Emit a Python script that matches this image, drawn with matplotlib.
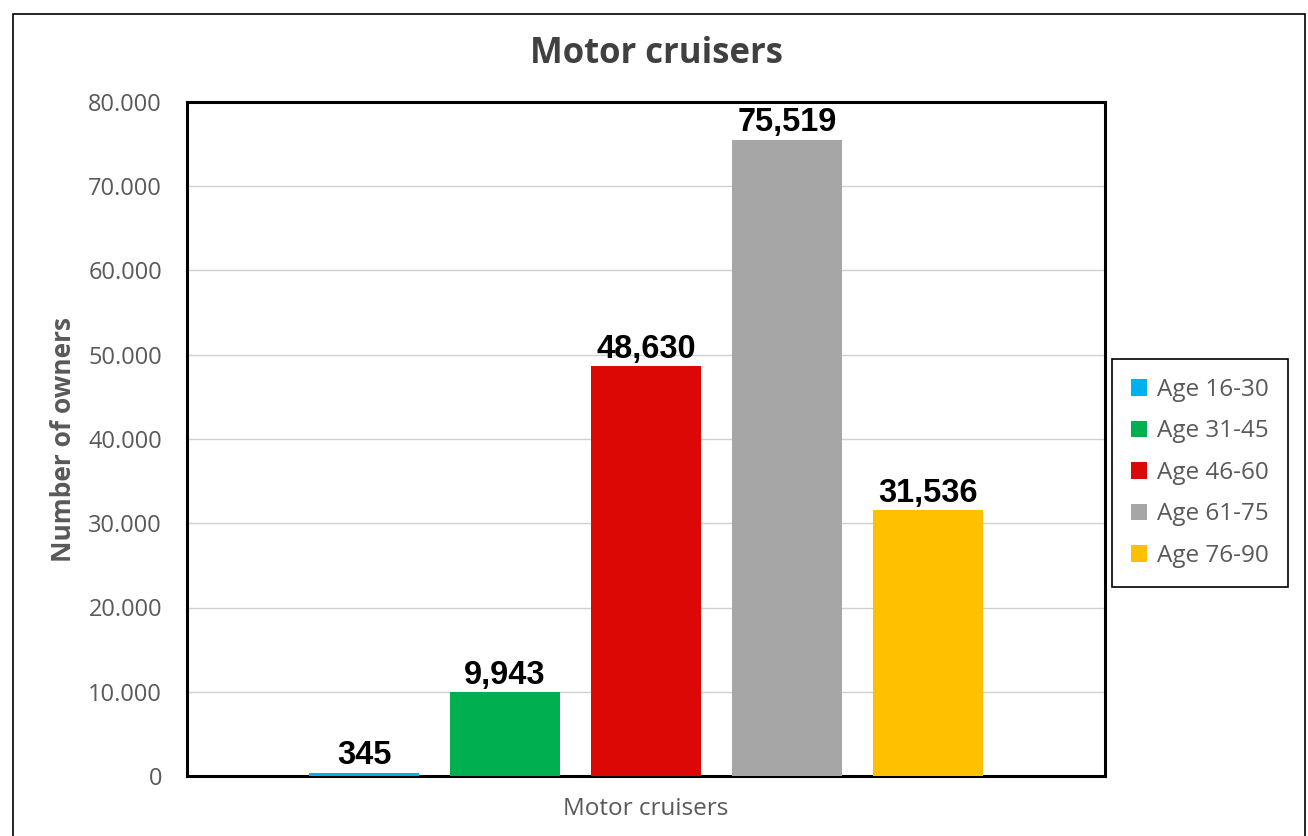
import matplotlib
matplotlib.use("Agg")
import matplotlib.pyplot as plt
from matplotlib.patches import Rectangle

# Data
category = "Motor cruisers"
age_groups = ["Age 16-30", "Age 31-45", "Age 46-60", "Age 61-75", "Age 76-90"]
owners = [345, 9943, 48630, 75519, 31536]
colors = ["#00b0f0", "#00b050", "#dc0806", "#a6a6a6", "#ffc000"]
yticks = [0, 10000, 20000, 30000, 40000, 50000, 60000, 70000, 80000]

plt.rcParams['font.family'] = ['Open Sans', 'DejaVu Sans']

fig = plt.figure(figsize=(13.08, 8.36), dpi=100)
ax = fig.add_axes([187/1308, 60/836, 918/1308, 674/836])

# outer chart border
fig.patches.append(Rectangle((13/1308, -0.01), (1305-13)/1308, (830)/836,
                             transform=fig.transFigure, fill=False,
                             edgecolor="black", linewidth=1.2))

bar_w = 0.12
step = 0.1535
for i, (lab, val, col) in enumerate(zip(age_groups, owners, colors)):
    x = 0.5 + (i - 2) * step
    ax.bar(x, val, width=bar_w, color=col, label=lab, zorder=3)
    ax.text(x, val + 200, f"{val:,}", ha="center", va="bottom",
            fontsize=23.5, fontweight="bold", color="black",
            family=["Liberation Sans", "DejaVu Sans"], zorder=4)

ax.set_xlim(0, 1)
ax.set_ylim(0, 80000)
ax.set_yticks(yticks)
ax.set_yticklabels([f"{v:,}".replace(",", ".") for v in yticks],
                   fontsize=17, color="#595959")
ax.set_xticks([0.5])
ax.set_xticklabels([category], fontsize=17.5, color="#595959")
ax.tick_params(length=0, pad=18)
ax.tick_params(axis="x", pad=15)
ax.grid(axis="y", color="#d0d0d0", linewidth=1, zorder=0)

for s in ax.spines.values():
    s.set_linewidth(2.2)
    s.set_color("black")

ax.set_ylabel("Number of owners", fontsize=19, fontweight="bold",
              color="#595959", labelpad=8)

fig.text(657/1308, 1 - 54/836, "Motor cruisers", ha="center", va="center",
         fontsize=25, fontweight="bold", color="#404040")

leg = ax.legend(loc="center left", bbox_to_anchor=(1.0076, 0.4496),
                fontsize=17.5, frameon=True, fancybox=False, handlelength=0.65,
                handleheight=0.65, handletextpad=0.4, labelspacing=0.72,
                borderpad=0.8, borderaxespad=0, labelcolor="#595959",
                framealpha=1)
leg.get_frame().set_edgecolor("black")
leg.get_frame().set_linewidth(1.2)

plt.savefig("out.png", dpi=100)
